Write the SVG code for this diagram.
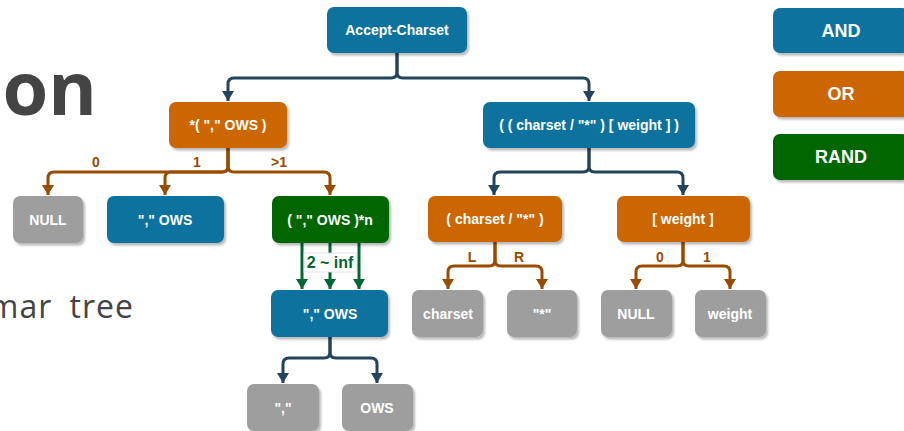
<svg xmlns="http://www.w3.org/2000/svg" width="904" height="431" viewBox="0 0 904 431">
  <defs>
    <filter id="shadow" x="-10%" y="-10%" width="130%" height="140%">
      <feDropShadow dx="2" dy="2.5" stdDeviation="1" flood-color="#000" flood-opacity="0.28"/>
    </filter>
    <marker id="arrow-and" viewBox="0 0 12 10" refX="6" refY="10" markerWidth="12" markerHeight="10" markerUnits="userSpaceOnUse">
      <path d="M0,0 L12,0 L6,10 Z" fill="#23445d"/>
    </marker>
    <marker id="arrow-or" viewBox="0 0 12 10" refX="6" refY="10" markerWidth="12" markerHeight="10" markerUnits="userSpaceOnUse">
      <path d="M0,0 L12,0 L6,10 Z" fill="#994c00"/>
    </marker>
    <marker id="arrow-rand" viewBox="0 0 12 10" refX="6" refY="10" markerWidth="12" markerHeight="10" markerUnits="userSpaceOnUse">
      <path d="M0,0 L12,0 L6,10 Z" fill="#006633"/>
    </marker>
  </defs>
  <style>
    .box { filter: url(#shadow); }
    .and { fill: #10739e; }
    .or { fill: #cc6600; }
    .rand { fill: #006600; }
    .leaf { fill: #9e9e9e; }
    .lbl { font-family: "Liberation Sans", Arial, sans-serif; font-weight: bold; font-size: 14px; fill: #ffffff; text-anchor: middle; dominant-baseline: central; }
    .legend { font-size: 18px; }
    .edge { fill: none; stroke-width: 3; }
    .e-and { stroke: #23445d; marker-end: url(#arrow-and); }
    .e-or { stroke: #994c00; marker-end: url(#arrow-or); }
    .e-rand { stroke: #006633; marker-end: url(#arrow-rand); }
    .elbl { font-family: "Liberation Sans", Arial, sans-serif; font-weight: bold; font-size: 14px; text-anchor: middle; fill: #994c00; }
    .rlbl { font-size: 16px; fill: #006633; }
    .title { font-family: "Open Sans", "Noto Sans", sans-serif; fill: #444444; text-anchor: end; }
  </style>

  <!-- slide text partly covered by the tree -->
  <text class="title" x="97" y="115" font-size="74" font-weight="bold">on</text>
  <text class="title" x="134" y="318" font-size="32" letter-spacing="1" word-spacing="8">mar tree</text>

  <!-- connectors -->
  <g id="connectors">
    <!-- Accept-Charset -->
    <path class="edge e-and" d="M397,53 V72 Q397,78 391,78 H234 Q228,78 228,84 V101"/>
    <path class="edge e-and" d="M397,53 V72 Q397,78 403,78 H583 Q589,78 589,84 V101"/>
    <!-- *( "," OWS ) -->
    <path class="edge e-or" d="M228,148 V166 Q228,172 222,172 H54 Q48,172 48,178 V195"/>
    <path class="edge e-or" d="M228,148 V166 Q228,172 222,172 H171 Q165,172 165,178 V195"/>
    <path class="edge e-or" d="M228,148 V166 Q228,172 234,172 H324 Q330,172 330,178 V195"/>
    <text class="elbl" x="96" y="167">0</text>
    <text class="elbl" x="197" y="167">1</text>
    <text class="elbl" x="279" y="167">&gt;1</text>
    <!-- ( "," OWS )*n -->
    <path class="edge e-rand" d="M302,243 V289"/>
    <path class="edge e-rand" d="M330,243 V289"/>
    <path class="edge e-rand" d="M359,243 V289"/>
    <rect x="304" y="253" width="52" height="19" fill="#ffffff" stroke="#dddddd" stroke-width="0.8"/>
    <text class="elbl rlbl" x="330" y="268">2 ~ inf</text>
    <!-- "," OWS (repeated) -->
    <path class="edge e-and" d="M330,337 V352 Q330,358 324,358 H289 Q283,358 283,364 V383"/>
    <path class="edge e-and" d="M330,337 V352 Q330,358 336,358 H371 Q377,358 377,364 V383"/>
    <!-- ( ( charset / "*" ) [ weight ] ) -->
    <path class="edge e-and" d="M589,148 V166 Q589,172 583,172 H500 Q494,172 494,178 V195"/>
    <path class="edge e-and" d="M589,148 V166 Q589,172 595,172 H677 Q683,172 683,178 V195"/>
    <!-- ( charset / "*" ) -->
    <path class="edge e-or" d="M495,242 V260 Q495,266 489,266 H454 Q448,266 448,272 V289"/>
    <path class="edge e-or" d="M495,242 V260 Q495,266 501,266 H536 Q542,266 542,272 V289"/>
    <text class="elbl" x="472" y="262">L</text>
    <text class="elbl" x="519" y="262">R</text>
    <!-- [ weight ] -->
    <path class="edge e-or" d="M683,242 V260 Q683,266 677,266 H642 Q636,266 636,272 V289"/>
    <path class="edge e-or" d="M683,242 V260 Q683,266 689,266 H724 Q730,266 730,272 V289"/>
    <text class="elbl" x="660" y="262">0</text>
    <text class="elbl" x="707" y="262">1</text>
  </g>

  <!-- nodes -->
  <g id="accept-charset"><rect class="box and" x="327" y="7" width="140" height="46" rx="7"/><text class="lbl" x="397" y="30">Accept-Charset</text></g>
  <g id="ows-list"><rect class="box or" x="169" y="102" width="118" height="46" rx="7"/><text class="lbl" x="228" y="125">*( "," OWS )</text></g>
  <g id="charset-weight"><rect class="box and" x="483" y="102" width="212" height="46" rx="7"/><text class="lbl" x="589" y="125">( ( charset / "*" ) [ weight ] )</text></g>

  <g id="null-1"><rect class="box leaf" x="13" y="196" width="70" height="47" rx="7"/><text class="lbl" x="48" y="220">NULL</text></g>
  <g id="comma-ows-1"><rect class="box and" x="107" y="196" width="117" height="47" rx="7"/><text class="lbl" x="165" y="220">"," OWS</text></g>
  <g id="comma-ows-n"><rect class="box rand" x="272" y="196" width="117" height="47" rx="7"/><text class="lbl" x="330" y="220">( "," OWS )*n</text></g>

  <g id="comma-ows-2"><rect class="box and" x="271" y="290" width="117" height="47" rx="7"/><text class="lbl" x="330" y="314">"," OWS</text></g>
  <g id="comma"><rect class="box leaf" x="247" y="384" width="72" height="47" rx="7"/><text class="lbl" x="283" y="408">","</text></g>
  <g id="ows"><rect class="box leaf" x="342" y="384" width="71" height="47" rx="7"/><text class="lbl" x="377" y="408">OWS</text></g>

  <g id="charset-or-star"><rect class="box or" x="428" y="196" width="134" height="46" rx="7"/><text class="lbl" x="495" y="219">( charset / "*" )</text></g>
  <g id="weight-opt"><rect class="box or" x="617" y="196" width="133" height="46" rx="7"/><text class="lbl" x="683" y="219">[ weight ]</text></g>

  <g id="charset"><rect class="box leaf" x="412" y="290" width="71" height="47" rx="7"/><text class="lbl" x="448" y="314">charset</text></g>
  <g id="star"><rect class="box leaf" x="507" y="290" width="70" height="47" rx="7"/><text class="lbl" x="542" y="314">"*"</text></g>
  <g id="null-2"><rect class="box leaf" x="601" y="290" width="71" height="47" rx="7"/><text class="lbl" x="636" y="314">NULL</text></g>
  <g id="weight"><rect class="box leaf" x="695" y="290" width="71" height="47" rx="7"/><text class="lbl" x="730" y="314">weight</text></g>

  <!-- legend -->
  <g id="legend-and"><rect class="box and" x="773" y="8" width="136" height="45" rx="7"/><text class="lbl legend" x="841" y="31">AND</text></g>
  <g id="legend-or"><rect class="box or" x="773" y="71" width="136" height="46" rx="7"/><text class="lbl legend" x="841" y="94">OR</text></g>
  <g id="legend-rand"><rect class="box rand" x="773" y="134" width="136" height="46" rx="7"/><text class="lbl legend" x="841" y="157">RAND</text></g>
</svg>
